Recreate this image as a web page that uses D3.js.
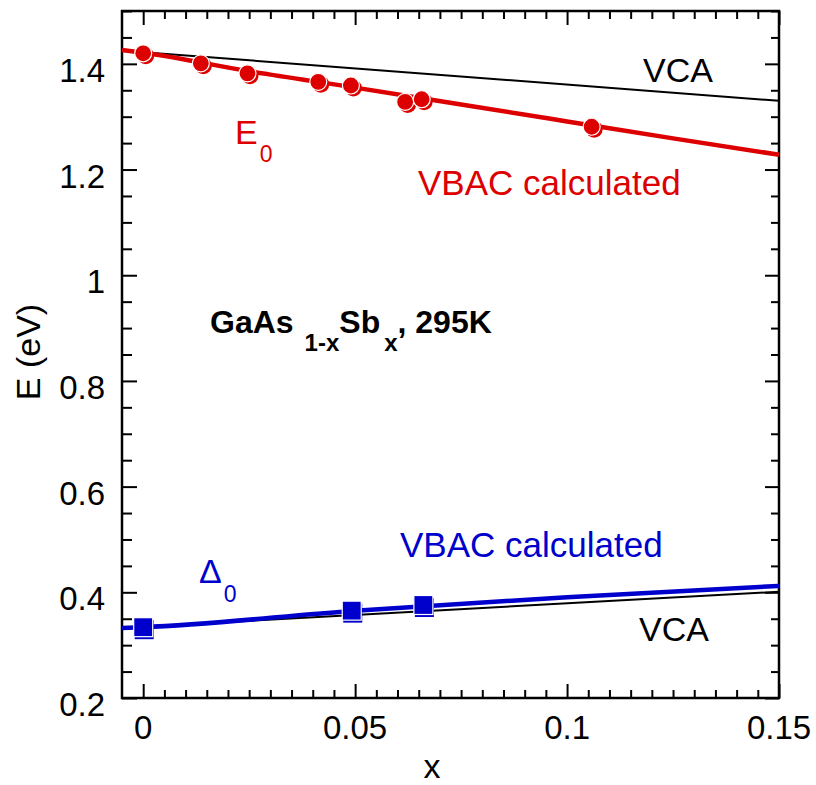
<!DOCTYPE html>
<html>
<head>
<meta charset="utf-8">
<script src="https://cdn.jsdelivr.net/npm/d3@7"></script>
<style>
  body { margin: 0; background: #fff; }
  text { font-family: "Liberation Sans", Arial, Helvetica, sans-serif; }
</style>
</head>
<body>
<div id="chart"></div>
<script>
// E0 measured points (x, eV)
const e0X = [0, 0.0136, 0.0246, 0.0413, 0.049, 0.0618, 0.0657, 0.1058];
const e0Y = [1.420, 1.401, 1.382, 1.366, 1.359, 1.328, 1.333, 1.281];
// Delta0 measured points
const d0X = [0, 0.0492, 0.0661];
const d0Y = [0.334, 0.3653, 0.376];
// VBAC calculated curves
const vbacE0X = [-0.005, 0, 0.025, 0.05, 0.075, 0.1, 0.125, 0.15];
const vbacE0Y = [1.426, 1.421, 1.386, 1.355, 1.323, 1.291, 1.259, 1.228];
const vbacD0X = [-0.005, 0, 0.05, 0.1, 0.15];
const vbacD0Y = [0.3326, 0.334, 0.3653, 0.3907, 0.4121];
// VCA lines
const vcaE0X = [0, 0.15];
const vcaE0Y = [1.422, 1.330];
const vcaD0X = [-0.005, 0.15];
const vcaD0Y = [0.333, 0.401];
// axis ticks
const xMajor = [0, 0.05, 0.1, 0.15];
const xMajorLabels = ['0', '0.05', '0.1', '0.15'];
const yMajor = [0.2, 0.4, 0.6, 0.8, 1, 1.2, 1.4];
const yMajorLabels = ['0.2', '0.4', '0.6', '0.8', '1', '1.2', '1.4'];

const totalWidth = 816, totalHeight = 785;
const margins = {top: 11, bottom: 87, left: 122, right: 37};
const width = totalWidth - margins.left - margins.right;
const height = totalHeight - margins.top - margins.bottom;
const red = '#dd0000', blue = '#0000cc';

const svg = d3.select('#chart').append('svg')
  .attr('width', totalWidth)
  .attr('height', totalHeight);

const g = svg.append('g')
  .attr('transform', 'translate(' + [margins.left, margins.top] + ')');

const xScale = d3.scaleLinear().domain([-0.005, 0.15]).range([0, width]);
const yScale = d3.scaleLinear().domain([0.2, 1.5]).range([height, 0]);

const xMinor = d3.range(0, 150.1, 5).map(d => d / 1000).filter(d => !xMajor.some(m => Math.abs(m - d) < 1e-9));
const yMinor = d3.range(20, 150.1, 5).map(d => d / 100).filter(d => !yMajor.some(m => Math.abs(m - d) < 1e-9));

// inward ticks on all four sides
function drawTicks(axisFn, scale, vals, len, transform) {
  g.append('g')
    .attr('class', 'ticks')
    .attr('transform', transform)
    .call(axisFn(scale).tickValues(vals).tickSize(len).tickFormat(''))
    .call(s => s.select('.domain').remove())
    .call(s => s.selectAll('line').attr('stroke', '#000').attr('stroke-width', 2));
}
drawTicks(d3.axisTop, xScale, xMajor, 14, 'translate(0,' + height + ')');
drawTicks(d3.axisTop, xScale, xMinor, 8, 'translate(0,' + height + ')');
drawTicks(d3.axisBottom, xScale, xMajor, 14, 'translate(0,0)');
drawTicks(d3.axisBottom, xScale, xMinor, 8, 'translate(0,0)');
drawTicks(d3.axisRight, yScale, yMajor, 15, 'translate(0,0)');
drawTicks(d3.axisRight, yScale, yMinor, 10, 'translate(0,0)');
drawTicks(d3.axisLeft, yScale, yMajor, 14, 'translate(' + width + ',0)');
drawTicks(d3.axisLeft, yScale, yMinor, 8, 'translate(' + width + ',0)');

// tick labels
g.selectAll('text.xlab')
  .data(xMajor)
  .enter().append('text')
  .attr('class', 'xlab')
  .attr('x', d => xScale(d))
  .attr('y', height + 41)
  .attr('text-anchor', 'middle')
  .style('font-size', '33px')
  .text((d, i) => xMajorLabels[i]);

g.selectAll('text.ylab')
  .data(yMajor)
  .enter().append('text')
  .attr('class', 'ylab')
  .attr('x', -17)
  .attr('y', d => yScale(d) + 18)
  .attr('text-anchor', 'end')
  .style('font-size', '33px')
  .text((d, i) => yMajorLabels[i]);

// frame
g.append('rect')
  .attr('width', width)
  .attr('height', height)
  .style('fill', 'none')
  .style('stroke', '#000')
  .style('stroke-width', 2.5);

// axis titles
svg.append('text')
  .attr('x', 432)
  .attr('y', 778)
  .attr('text-anchor', 'middle')
  .style('font-size', '34px')
  .text('x');

svg.append('text')
  .attr('transform', 'translate(40,' + 352 + ') rotate(-90)')
  .attr('text-anchor', 'middle')
  .style('font-size', '34px')
  .text('E (eV)');

const line = d3.line().x(d => xScale(d[0])).y(d => yScale(d[1]));
const curve = d3.line().x(d => xScale(d[0])).y(d => yScale(d[1])).curve(d3.curveMonotoneX);

const plot = g.append('g').attr('class', 'plot');

plot.append('path')
  .datum(d3.zip(vcaE0X, vcaE0Y))
  .attr('d', line)
  .style('fill', 'none').style('stroke', '#000').style('stroke-width', 2);
plot.append('path')
  .datum(d3.zip(vcaD0X, vcaD0Y))
  .attr('d', line)
  .style('fill', 'none').style('stroke', '#000').style('stroke-width', 2);
plot.append('path')
  .datum(d3.zip(vbacE0X, vbacE0Y))
  .attr('d', curve)
  .style('fill', 'none').style('stroke', red).style('stroke-width', 4.5);
plot.append('path')
  .datum(d3.zip(vbacD0X, vbacD0Y))
  .attr('d', curve)
  .style('fill', 'none').style('stroke', blue).style('stroke-width', 4.5);

// E0 circles: offset shadow + front marker
const e0 = d3.zip(e0X, e0Y);
const r = 8.5;
plot.selectAll('circle.shadow')
  .data(e0).enter().append('circle')
  .attr('class', 'shadow')
  .attr('cx', d => xScale(d[0]) + 2.5)
  .attr('cy', d => yScale(d[1]) + 2.5)
  .attr('r', r)
  .style('fill', red);
plot.selectAll('circle.front')
  .data(e0).enter().append('circle')
  .attr('class', 'front')
  .attr('cx', d => xScale(d[0]))
  .attr('cy', d => yScale(d[1]))
  .attr('r', r)
  .style('fill', red)
  .style('stroke', '#fff')
  .style('stroke-width', 1.2);

// Delta0 squares
const d0 = d3.zip(d0X, d0Y);
const sq = 19;
plot.selectAll('rect.shadow')
  .data(d0).enter().append('rect')
  .attr('class', 'shadow')
  .attr('x', d => xScale(d[0]) - sq / 2 + 1)
  .attr('y', d => yScale(d[1]) - sq / 2 + 2.5)
  .attr('width', sq).attr('height', sq)
  .style('fill', blue);
plot.selectAll('rect.front')
  .data(d0).enter().append('rect')
  .attr('class', 'front')
  .attr('x', d => xScale(d[0]) - sq / 2)
  .attr('y', d => yScale(d[1]) - sq / 2)
  .attr('width', sq).attr('height', sq)
  .style('fill', blue)
  .style('stroke', '#fff')
  .style('stroke-width', 1.2);

// annotations
function label(x, y, txt, color, size, weight) {
  return svg.append('text')
    .attr('x', x).attr('y', y)
    .style('font-size', size + 'px')
    .style('font-weight', weight || 'normal')
    .style('fill', color)
    .text(txt);
}
label(643, 82, 'VCA', '#000', 34);
label(418, 195, 'VBAC calculated', red, 35);
label(400, 557, 'VBAC calculated', blue, 35);
label(639, 641, 'VCA', '#000', 34);

const e0Label = svg.append('text').attr('x', 235).attr('y', 144).style('fill', red);
e0Label.append('tspan').style('font-size', '34px').text('E');
e0Label.append('tspan').attr('dx', 2).attr('dy', 18).style('font-size', '23px').text('0');

const d0Label = svg.append('text').attr('x', 199).attr('y', 583).style('fill', blue);
d0Label.append('tspan').style('font-size', '34px').text('\u0394');
d0Label.append('tspan').attr('dx', 2).attr('dy', 19).style('font-size', '23px').text('0');

const title = svg.append('text').attr('x', 210).attr('y', 333)
  .style('font-weight', 'bold').style('fill', '#000');
title.append('tspan').style('font-size', '32px').text('GaAs');
title.append('tspan').attr('dx', 11).attr('dy', 18).style('font-size', '24px').text('1-x');
title.append('tspan').attr('dy', -18).style('font-size', '32px').text('Sb');
title.append('tspan').attr('dx', 4).attr('dy', 18).style('font-size', '24px').text('x');
title.append('tspan').attr('dy', -18).style('font-size', '32px').text(', 295K');
</script>
</body>
</html>
